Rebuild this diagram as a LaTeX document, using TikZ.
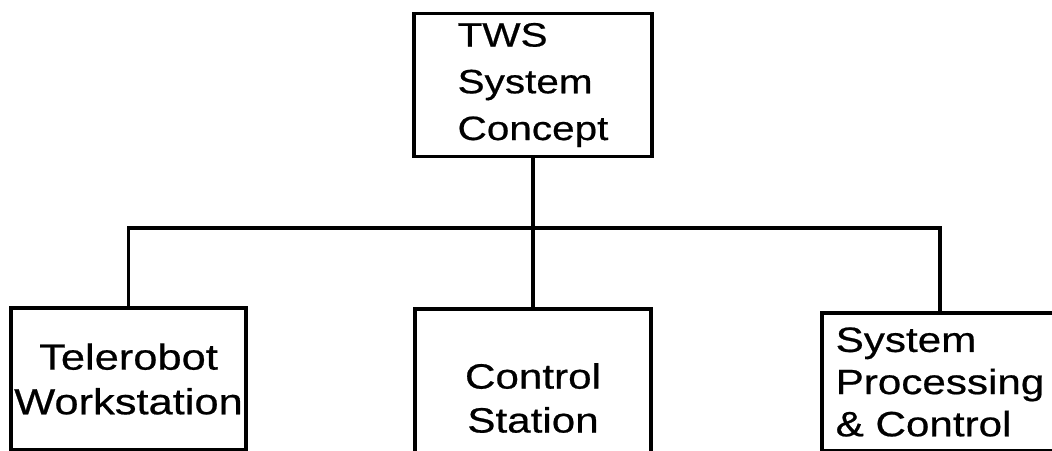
\documentclass[tikz,border=0pt]{standalone}
\usepackage{fontspec}
\setmainfont{Liberation Sans}[FakeStretch=1.2, FakeBold=0.6]
\usetikzlibrary{positioning}
\begin{document}
\begin{tikzpicture}[
    unit/.style={draw, line width=1pt, minimum width=2.36cm, inner sep=0pt, font=\fontsize{10}{12.5}\selectfont},
    link/.style={line width=0.9pt}]
    \path[use as bounding box, clip] (0,0) rectangle (10.52,4.51);
    \node[unit, align=left, minimum height=1.43cm, minimum width=2.38cm, font=\fontsize{9.6}{13.3}\selectfont] (tws) at (5.33,3.66) {TWS\\System\\Concept};
    \node[unit, align=center, minimum height=1.42cm, minimum width=2.35cm, font=\fontsize{10.3}{12.7}\selectfont] (tele) at (1.285,0.72) {Telerobot\\Workstation};
    \node[unit, align=center, minimum height=1.78cm] (ctrl) at (5.33,0.53) {Control\\Station};
    \node[unit, align=left, minimum height=1.38cm, font=\fontsize{10}{12}\selectfont] (sysproc) at (9.40,0.69) {System\\Processing\\\& Control};
    \coordinate (bus) at (5.33,2.23);
    \draw[link] (tws) -- (ctrl);
    \draw[link] (tele) |- (bus) -| (sysproc);
\end{tikzpicture}
\end{document}
